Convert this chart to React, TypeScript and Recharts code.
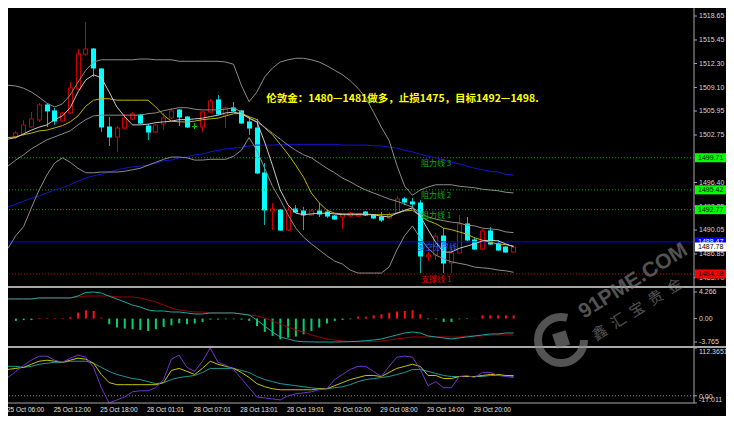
import React from 'react';
import { ComposedChart, Bar, Line, XAxis, YAxis, ReferenceLine, ReferenceDot, Cell } from 'recharts';

// ---- candles (slots 1..65, hourly) ----
const candleOpen = [1502.48,1502.88,1503.82,1504.75,1506.76,1505.96,1504.62,1505.69,1508.90,1513.57,
  1514.24,1511.57,1503.82,1502.48,1503.68,1504.89,1505.42,1503.95,1503.15,1504.22,
  1505.02,1506.09,1505.15,1503.95,1503.82,1505.82,1507.43,1505.42,1506.36,1505.96,
  1504.49,1503.68,1497.67,1492.59,1492.73,1490.05,1492.86,1492.59,1492.06,1492.59,
  1492.46,1491.92,1491.79,1491.92,1491.92,1492.46,1492.06,1491.79,1491.66,1492.33,
  1494.20,1493.80,1493.66,1486.45,1486.71,1489.25,1485.64,1486.98,1490.86,1488.72,
  1487.51,1489.92,1488.18,1487.78,1487.11];
const candleHigh = [1503.28,1504.75,1505.82,1507.03,1506.89,1506.36,1505.82,1509.83,1514.24,1517.85,
  1514.38,1511.70,1505.15,1503.95,1505.56,1505.82,1505.56,1504.22,1504.22,1505.69,
  1506.36,1506.22,1505.29,1504.35,1505.96,1507.56,1508.09,1506.49,1507.16,1506.09,
  1505.15,1504.89,1499.01,1493.66,1492.86,1493.39,1493.39,1493.13,1492.86,1493.66,
  1492.59,1492.06,1492.33,1492.46,1492.33,1492.59,1492.19,1492.46,1492.46,1494.60,
  1494.46,1494.33,1494.06,1487.11,1489.65,1490.32,1487.78,1492.06,1491.79,1489.12,
  1490.19,1490.45,1488.72,1487.92,1487.92];
const candleLow = [1502.21,1502.62,1503.68,1504.49,1503.82,1504.09,1504.49,1505.56,1508.76,1513.31,
  1510.50,1503.15,1501.28,1500.48,1503.55,1504.75,1504.22,1502.08,1503.02,1503.42,
  1504.89,1503.95,1503.68,1503.55,1503.15,1505.69,1505.42,1503.68,1505.82,1504.22,
  1502.75,1497.54,1490.72,1490.05,1489.92,1489.92,1492.33,1490.05,1491.92,1491.79,
  1491.66,1491.39,1490.19,1491.79,1491.79,1491.92,1491.52,1491.12,1491.52,1492.19,
  1493.39,1492.99,1484.31,1485.91,1486.04,1484.31,1484.31,1486.85,1488.58,1487.38,
  1487.38,1488.05,1487.25,1486.98,1486.98];
const candleClose = [1503.02,1504.09,1504.89,1506.76,1505.96,1504.62,1505.69,1509.03,1513.57,1514.24,
  1511.70,1503.82,1502.48,1503.68,1505.02,1505.56,1504.35,1503.15,1504.09,1505.02,
  1505.96,1505.15,1503.82,1503.95,1505.82,1507.29,1505.56,1506.36,1505.96,1504.35,
  1503.68,1497.67,1492.73,1492.86,1490.05,1492.73,1492.46,1492.06,1492.59,1492.19,
  1491.92,1491.52,1492.19,1492.33,1492.19,1492.06,1491.66,1491.39,1492.06,1494.20,
  1493.80,1493.53,1486.58,1486.71,1489.25,1485.64,1486.98,1490.86,1488.72,1487.51,
  1489.92,1488.18,1487.38,1487.11,1487.78];

// ---- main-panel indicators (slots 0..65) ----
const bbUpper = [1509.4,1509.3,1509.0,1508.5,1507.8,1507.0,1506.5,1506.9,1508.1,1509.8,
  1511.4,1512.5,1512.8,1512.8,1512.8,1512.8,1512.8,1512.9,1512.9,1512.8,
  1512.8,1512.8,1512.6,1512.6,1512.6,1512.6,1512.6,1512.6,1512.5,1512.2,
  1509.4,1507.2,1508.5,1510.5,1511.7,1512.5,1512.8,1513.0,1513.0,1512.8,
  1512.5,1512.0,1511.4,1510.8,1510.0,1509.0,1507.7,1505.8,1503.8,1502.0,
  1498.7,1495.9,1494.7,1495.4,1495.8,1496.1,1496.1,1496.1,1495.9,1495.8,
  1495.7,1495.5,1495.4,1495.3,1495.1,1495.0];
const bbMid = [1498.6,1499.4,1500.1,1500.9,1501.5,1502.1,1502.5,1502.9,1503.3,1504.1,
  1504.8,1505.3,1505.4,1505.4,1505.4,1505.4,1505.4,1505.4,1505.6,1505.7,
  1506.0,1506.2,1506.4,1506.4,1506.2,1506.1,1506.1,1506.1,1506.2,1506.4,
  1505.8,1505.0,1504.5,1503.8,1503.0,1502.2,1501.4,1500.7,1500.1,1499.7,
  1499.0,1498.3,1497.7,1497.0,1496.5,1495.9,1495.4,1495.0,1494.6,1494.2,
  1493.9,1493.5,1493.1,1492.3,1491.8,1491.5,1491.3,1491.1,1491.0,1490.7,
  1490.6,1490.3,1490.2,1490.1,1489.8,1489.7];
const bbLower = [1487.6,1489.3,1490.5,1493.0,1495.4,1497.4,1499.0,1499.7,1499.1,1498.3,
  1497.7,1497.7,1497.8,1497.8,1497.8,1497.9,1498.1,1498.3,1498.7,1499.1,
  1499.5,1499.8,1499.8,1499.7,1499.4,1499.4,1499.5,1499.5,1499.5,1499.9,
  1500.7,1502.4,1500.7,1498.3,1495.9,1494.1,1492.1,1490.3,1489.1,1488.2,
  1487.4,1486.6,1485.9,1485.5,1484.7,1484.3,1484.3,1484.3,1484.3,1485.1,
  1487.4,1489.3,1490.6,1489.0,1487.6,1486.7,1486.2,1485.8,1485.6,1485.4,
  1485.1,1485.0,1484.9,1484.7,1484.6,1484.4];
const maFast = [1502.2,1502.4,1502.9,1503.4,1503.8,1504.1,1504.8,1505.3,1506.4,1508.5,
  1510.1,1510.8,1510.4,1508.5,1506.5,1505.2,1504.1,1504.1,1504.2,1504.4,
  1504.5,1504.6,1504.8,1504.8,1504.9,1505.0,1505.2,1505.4,1505.7,1505.8,
  1505.6,1505.0,1504.5,1501.8,1498.7,1495.4,1493.4,1492.3,1492.1,1492.2,
  1492.3,1492.3,1492.2,1492.1,1492.1,1492.1,1492.1,1492.1,1491.9,1491.8,
  1492.3,1492.7,1493.0,1491.9,1490.1,1488.4,1487.1,1487.1,1487.6,1487.9,
  1488.2,1488.6,1488.7,1488.6,1488.2,1487.8];
const maYellow = [1502.4,1502.5,1502.8,1503.0,1503.3,1503.4,1503.7,1504.0,1504.5,1505.3,
  1506.6,1507.4,1507.6,1507.6,1507.4,1507.4,1507.4,1507.4,1507.4,1506.5,
  1505.4,1504.6,1504.5,1504.5,1504.6,1504.8,1504.9,1505.0,1505.3,1505.6,
  1505.6,1505.2,1504.8,1503.7,1502.8,1501.5,1500.2,1498.7,1497.1,1495.0,
  1493.7,1492.7,1492.3,1492.2,1492.2,1492.2,1492.2,1492.1,1492.1,1492.1,
  1492.3,1492.6,1492.7,1491.9,1491.3,1490.9,1490.3,1490.1,1489.8,1489.5,
  1489.0,1488.7,1488.4,1488.2,1488.1,1487.9];
const maBlue = [1493.1,1493.5,1493.9,1494.3,1494.6,1495.0,1495.4,1495.7,1496.1,1496.6,
  1497.0,1497.3,1497.5,1497.8,1498.1,1498.3,1498.5,1498.6,1498.7,1499.0,
  1499.3,1499.4,1499.7,1499.8,1500.1,1500.2,1500.5,1500.7,1500.9,1501.0,
  1501.1,1501.3,1501.4,1501.4,1501.4,1501.5,1501.5,1501.5,1501.5,1501.5,
  1501.5,1501.5,1501.5,1501.4,1501.4,1501.4,1501.4,1501.3,1501.3,1501.1,
  1501.0,1500.7,1500.5,1500.2,1499.9,1499.7,1499.4,1499.1,1498.9,1498.6,
  1498.3,1498.1,1497.9,1497.8,1497.5,1497.4];

// ---- MACD (slots 0..65) ----
const macdMain = [3.15,3.15,3.15,3.15,3.31,3.31,3.31,3.31,3.31,3.63,
  4.19,4.266,4.10,3.60,3.15,2.66,2.18,1.86,1.38,1.22,
  1.22,1.06,1.06,0.90,0.74,0.74,0.90,0.90,0.90,0.90,
  0.74,0.58,-0.22,-1.19,-2.15,-2.95,-3.27,-3.60,-3.72,-3.74,
  -3.76,-3.765,-3.76,-3.74,-3.70,-3.65,-3.55,-3.43,-3.27,-2.95,
  -2.63,-2.31,-2.15,-2.31,-2.79,-2.95,-3.11,-3.27,-3.11,-2.95,
  -2.79,-2.63,-2.47,-2.47,-2.31,-2.31];
const macdSignal = [3.15,3.15,3.15,3.15,3.31,3.31,3.31,3.31,3.31,3.47,
  3.63,3.63,3.63,3.63,3.47,3.47,3.47,3.31,2.99,2.66,
  2.18,1.70,1.38,1.22,1.06,1.06,0.90,0.90,0.90,0.90,
  0.74,0.58,0.42,0.10,-0.39,-0.87,-1.35,-1.83,-2.15,-2.63,
  -2.95,-3.27,-3.43,-3.60,-3.70,-3.72,-3.72,-3.70,-3.60,-3.43,
  -3.27,-3.11,-2.95,-2.95,-2.95,-2.95,-2.95,-2.95,-2.95,-2.79,
  -2.79,-2.79,-2.63,-2.63,-2.63,-2.63];
const macdHist = [null,-0.37,-0.24,-0.24,0.1,0.1,0.08,0.1,0.24,0.96,1.34,
  1.23,0.16,-0.91,-1.44,-1.6,-1.71,-1.82,-1.98,-1.71,-1.34,
  -1.07,-0.75,-0.91,-0.8,-0.53,-0.16,-0.16,-0.1,-0.1,-0.16,
  -0.37,-1.2,-2.14,-2.78,-3.32,-3.05,-2.89,-2.52,-1.98,-1.44,
  -0.8,-0.37,-0.21,-0.1,0.32,0.3,0.53,0.7,0.96,1.12,
  1.23,1.34,0.7,-0.1,-0.1,-0.53,-0.53,-0.1,-0.05,0.05,
  0.53,0.53,0.53,0.53,0.53];

// ---- KDJ (slots 0..65) ----
const kdjJ = [42.9,57.3,71.6,83.6,93.2,93.2,83.6,78.8,88.4,95.6,
  90.8,66.8,18.9,-17.0,-9.8,-2.7,9.3,11.7,11.7,18.9,
  38.1,86.0,95.6,66.8,57.3,81.2,112.37,78.8,71.6,62.0,
  40.5,18.9,-2.7,-5.0,-7.4,-9.8,-0.3,4.5,6.9,9.3,
  14.1,16.5,38.1,50.1,62.0,69.2,69.2,57.3,45.3,69.2,
  90.8,93.2,90.8,62.0,23.7,33.3,18.9,18.9,45.3,47.7,
  42.9,54.9,54.9,47.7,45.3,42.9];
const kdjK = [62.0,64.4,66.8,74.0,81.2,83.6,81.2,78.8,83.6,88.4,
  86.0,76.4,50.1,30.9,26.1,26.1,26.1,26.1,26.1,26.1,
  30.9,59.6,64.4,57.3,50.1,64.4,81.2,74.0,69.2,64.4,
  54.9,42.9,28.5,21.3,16.5,14.1,14.1,14.1,14.1,14.1,
  16.5,16.5,23.7,30.9,38.1,42.9,47.7,47.7,45.3,54.9,
  64.4,69.2,74.0,69.2,47.7,47.7,40.5,40.5,45.3,45.3,
  45.3,47.7,50.1,50.1,47.7,47.7];
const kdjD = [69.2,69.2,66.8,69.2,74.0,76.4,78.8,78.8,81.2,81.2,
  81.2,76.4,66.8,57.3,50.1,45.3,40.5,38.1,33.3,28.5,
  30.9,38.1,42.9,45.3,47.7,54.9,64.4,64.4,64.4,64.4,
  59.6,54.9,45.3,38.1,33.3,28.5,26.1,23.7,21.3,18.9,
  16.5,16.5,18.9,21.3,26.1,33.3,38.1,40.5,42.9,45.3,
  50.1,54.9,62.0,62.0,57.3,52.5,47.7,45.3,45.3,45.3,
  45.3,45.3,47.7,47.7,47.7,45.3];

// ---- axes / labels ----
const timeTickSlots = [0, 6, 12, 18, 24, 30, 36, 42, 48, 54, 60];
const timeTickLabels = ['25 Oct 06:00', '25 Oct 12:00', '25 Oct 18:00', '28 Oct 01:01', '28 Oct 07:01',
  '28 Oct 13:01', '28 Oct 19:01', '29 Oct 02:00', '29 Oct 08:00', '29 Oct 14:00', '29 Oct 20:00'];
const priceTicks = [1518.65, 1515.45, 1512.30, 1509.10, 1505.95, 1502.75, 1496.40, 1493.25, 1490.05, 1486.85, 1483.70];
const macdTicks = [4.266, 0, -3.765];
const macdTickText = ['4.266', '0.00', '-3.765'];
const kdjTicks = [112.3651, 0, -17.011];
const kdjTickText = ['112.3651', '0.00', '-17.011'];

const levelPrices = [1499.71, 1495.42, 1492.77, 1488.47, 1484.18];
const levelNames = ['阻力线 3', '阻力线 2', '阻力线 1', '多空分界线', '支撑线 1'];
const levelKinds = ['res', 'res', 'res', 'pivot', 'sup'];
const bidPrice = 1487.78;
const titleText = '伦敦金：1480—1481做多，止损1475，目标1492—1498.';

const X_DOMAIN: [number, number] = [0, 88.2];
const PRICE_DOMAIN: [number, number] = [1482.57, 1519.72];

const rows = Array.from({ length: 66 }, (_, i) => ({
  i,
  o: i === 0 ? null : candleOpen[i - 1],
  h: i === 0 ? null : candleHigh[i - 1],
  l: i === 0 ? null : candleLow[i - 1],
  c: i === 0 ? null : candleClose[i - 1],
  up: bbUpper[i], mid: bbMid[i], lo: bbLower[i],
  fast: maFast[i], yel: maYellow[i], blue: maBlue[i],
  macd: macdMain[i], sig: macdSignal[i], hist: macdHist[i],
  k: kdjK[i], d: kdjD[i], j: kdjJ[i],
}));

const AXIS = '#a8a8a8';
const TXT = '#d8d8d8';
const FONT = 'Liberation Sans, Arial, sans-serif';
const CJK = 'Noto Sans CJK SC, sans-serif';

const Candle = (props: any) => {
  const { x, y, width, height, payload } = props;
  if (payload == null || payload.o == null) return null;
  const { o, h, l, c } = payload;
  const span = h - l;
  const py = (v: number) => (span === 0 ? y : y + ((h - v) / span) * height);
  const px = Math.round(x + width / 2);
  const top = py(Math.max(o, c));
  const bot = py(Math.min(o, c));
  const doji = o === c;
  const bull = c > o;
  const wick = doji ? '#00c800' : bull ? '#c80000' : '#00b8b8';
  return (
    <g>
      <line x1={px + 0.5} x2={px + 0.5} y1={y} y2={y + height} stroke={wick} strokeWidth={1} />
      {doji ? (
        <line x1={px - 2} x2={px + 3} y1={Math.round(top) + 0.5} y2={Math.round(top) + 0.5} stroke="#00c800" />
      ) : (
        <rect x={px - 1.5} y={top} width={4} height={Math.max(bot - top, 1)}
          fill={bull ? '#000000' : '#00ffff'} stroke={bull ? '#c80000' : '#00ffff'} strokeWidth={1} />
      )}
    </g>
  );
};

const PriceTick = (props: any) => {
  const { x, y, payload } = props;
  return (
    <text x={x} y={y} dy="0.35em" fontSize={7} fill={TXT} fontFamily={FONT} textAnchor="start">
      {Number(payload.value).toFixed(2)}
    </text>
  );
};

const makeSideTick = (ticks: number[], texts: string[], shifts: number[]) => (props: any) => {
  const { x, y, payload } = props;
  const idx = ticks.indexOf(payload.value);
  return (
    <text x={x} y={y + (shifts[idx] || 0)} dy="0.35em" fontSize={7} fill={TXT} fontFamily={FONT} textAnchor="start">
      {texts[idx]}
    </text>
  );
};
const MacdTick = makeSideTick(macdTicks, macdTickText, [0, 0, 0]);
const KdjTick = makeSideTick(kdjTicks, kdjTickText, [3.5, 1, -3]);

const TimeTick = (props: any) => {
  const { x, y, payload } = props;
  const idx = timeTickSlots.indexOf(payload.value);
  return (
    <text x={x - 1} y={y + 6.5} fontSize={6.5} fill="#e4e4e4" fontFamily={FONT} textAnchor="start">
      {timeTickLabels[idx]}
    </text>
  );
};

const levelColor = (kind: string) => (kind === 'res' ? '#00b400' : kind === 'pivot' ? '#2a5cff' : '#e00000');
const boxFill = (kind: string) => (kind === 'res' ? '#00ff00' : kind === 'pivot' ? '#0000ff' : '#ff0000');
const boxText = (kind: string) => (kind === 'pivot' ? '#ffffff' : '#000000');

const PriceBox = (fill: string, textColor: string, value: number) => (p: any) => (
  <g>
    <rect x={p.cx + 1} y={p.cy - 4.5} width={34} height={9} fill={fill} />
    <text x={p.cx + 4} y={p.cy} dy="0.35em" fontSize={7} fill={textColor} fontFamily={FONT}>{value.toFixed(2)}</text>
  </g>
);

const LevelText = (name: string, color: string) => (p: any) => (
  <text x={p.cx} y={p.cy + 8.5} fontSize={8} fill={color} fontFamily={CJK}>{name}</text>
);

const TitleText = (p: any) => (
  <text x={p.cx} y={p.cy} dy="0.35em" fontSize={10.5} fontWeight="bold" fill="#ffff00" fontFamily={CJK}>{titleText}</text>
);

export default function App() {
  return (
    <div style={{ position: 'relative', width: 720, height: 408, background: '#000', fontFamily: FONT }}>
      <div style={{ position: 'absolute', left: 0, top: -2, width: 688, height: 2, background: AXIS }} />

      {/* main price panel */}
      <div style={{ position: 'absolute', left: 0, top: 0 }}>
        <ComposedChart width={720} height={278} data={rows} margin={{ top: 0, right: 0, bottom: 0, left: 0 }}>
          <XAxis dataKey="i" type="number" domain={X_DOMAIN} allowDataOverflow hide />
          <YAxis orientation="right" width={34} domain={PRICE_DOMAIN} allowDataOverflow ticks={priceTicks} interval={0}
            axisLine={{ stroke: AXIS }} tickLine={{ stroke: AXIS }} tickSize={3} tickMargin={2} tick={PriceTick} />
          {levelPrices.map((p, idx) => (
            <ReferenceLine key={'lv' + idx} y={p} stroke={levelKinds[idx] === 'pivot' ? '#0000ff' : levelKinds[idx] === 'res' ? '#00a000' : '#c00000'}
              strokeDasharray={levelKinds[idx] === 'pivot' ? undefined : '1 2'} strokeWidth={1} />
          ))}
          {levelPrices.map((p, idx) => (
            <ReferenceDot key={'lt' + idx} x={levelKinds[idx] === 'pivot' ? 52.6 : 53.1} y={p} r={1}
              shape={LevelText(levelNames[idx], levelColor(levelKinds[idx]))} />
          ))}
          <ReferenceDot x={33.2} y={1507.69} r={1} shape={TitleText} />
          <Bar dataKey={(d: any) => (d.o == null ? null : [d.l, d.h])} barSize={5} shape={Candle} isAnimationActive={false} />
          <Line dataKey="blue" stroke="#1414d0" strokeWidth={1} dot={false} isAnimationActive={false} />
          <Line dataKey="up" stroke="#8c8c8c" strokeWidth={1} dot={false} isAnimationActive={false} />
          <Line dataKey="mid" stroke="#8c8c8c" strokeWidth={1} dot={false} isAnimationActive={false} />
          <Line dataKey="lo" stroke="#8c8c8c" strokeWidth={1} dot={false} isAnimationActive={false} />
          <Line dataKey="yel" stroke="#c0b400" strokeWidth={1} dot={false} isAnimationActive={false} />
          <Line dataKey="fast" stroke="#c8c8c8" strokeWidth={1} dot={false} isAnimationActive={false} />
        </ComposedChart>
      </div>

      {/* price boxes on the right scale, drawn above the tick labels with the same scales */}
      <div style={{ position: 'absolute', left: 0, top: 0, pointerEvents: 'none' }}>
        <ComposedChart width={720} height={278} data={rows} margin={{ top: 0, right: 34, bottom: 0, left: 0 }}>
          <XAxis dataKey="i" type="number" domain={X_DOMAIN} allowDataOverflow hide />
          <YAxis domain={PRICE_DOMAIN} allowDataOverflow hide />
          {levelPrices.map((p, idx) => (
            <ReferenceDot key={'bx' + idx} x={X_DOMAIN[1]} y={p} r={1}
              shape={PriceBox(boxFill(levelKinds[idx]), boxText(levelKinds[idx]), p)} />
          ))}
          <ReferenceDot x={X_DOMAIN[1]} y={bidPrice} r={1} shape={PriceBox('#ffffff', '#000000', bidPrice)} />
        </ComposedChart>
      </div>

      <div style={{ position: 'absolute', left: 0, top: 278, width: 720, height: 2, background: AXIS }} />

      {/* MACD panel */}
      <div style={{ position: 'absolute', left: 0, top: 280 }}>
        <ComposedChart width={720} height={58} data={rows} margin={{ top: 0, right: 0, bottom: 0, left: 0 }}>
          <XAxis dataKey="i" type="number" domain={X_DOMAIN} allowDataOverflow hide />
          <YAxis orientation="right" width={34} domain={[-4.40, 4.91]} allowDataOverflow ticks={macdTicks} interval={0}
            axisLine={{ stroke: AXIS }} tickLine={{ stroke: AXIS }} tickSize={3} tickMargin={2} tick={MacdTick} />
          <Bar dataKey="hist" barSize={2} isAnimationActive={false}>
            {rows.map((r, idx) => (
              <Cell key={idx} fill={(r.hist ?? 0) >= 0 ? '#ff1010' : '#00d070'} />
            ))}
          </Bar>
          <Line dataKey="sig" stroke="#9a0000" strokeWidth={1} dot={false} isAnimationActive={false} />
          <Line dataKey="macd" stroke="#1fa5a5" strokeWidth={1} dot={false} isAnimationActive={false} />
        </ComposedChart>
      </div>

      <div style={{ position: 'absolute', left: 0, top: 338, width: 720, height: 2, background: AXIS }} />

      {/* KDJ panel */}
      <div style={{ position: 'absolute', left: 0, top: 340 }}>
        <ComposedChart width={720} height={68} data={rows} margin={{ top: 0, right: 0, bottom: 0, left: 0 }}>
          <XAxis dataKey="i" type="number" domain={X_DOMAIN} allowDataOverflow ticks={timeTickSlots} interval={0}
            height={13} axisLine={{ stroke: AXIS }} tickLine={false} tickSize={0} tickMargin={2} tick={TimeTick} />
          <YAxis orientation="right" width={34} domain={[-17.011, 112.3651]} allowDataOverflow ticks={kdjTicks} interval={0}
            axisLine={{ stroke: AXIS }} tickLine={{ stroke: AXIS }} tickSize={3} tickMargin={2} tick={KdjTick} />
          <ReferenceLine y={0} stroke="#909090" strokeDasharray="1 2" />
          <Line dataKey="d" stroke="#1c9a9a" strokeWidth={1} dot={false} isAnimationActive={false} />
          <Line dataKey="k" stroke="#c8c400" strokeWidth={1} dot={false} isAnimationActive={false} />
          <Line dataKey="j" stroke="#7434c8" strokeWidth={1} dot={false} isAnimationActive={false} />
        </ComposedChart>
      </div>

      {/* watermark */}
      <svg width={720} height={408} style={{ position: 'absolute', left: 0, top: 0, pointerEvents: 'none' }}>
        <g opacity={0.6} fill="#8a8a8a">
          <circle cx={553} cy={332} r={23} fill="none" stroke="#8a8a8a" strokeWidth={8} strokeDasharray="114 30.5" />
          <rect x={546} y={324} width={14} height={15} transform="rotate(-18 553 331)" />
          <text x={576} y={311} fontSize={21} fontWeight="bold" fontFamily={FONT} transform="rotate(-32 576 311)">91PME.COM</text>
          <text x={588} y={333} fontSize={15} fontFamily={CJK} letterSpacing={7} transform="rotate(-32 588 333)">鑫汇宝贵金</text>
        </g>
      </svg>
    </div>
  );
}
